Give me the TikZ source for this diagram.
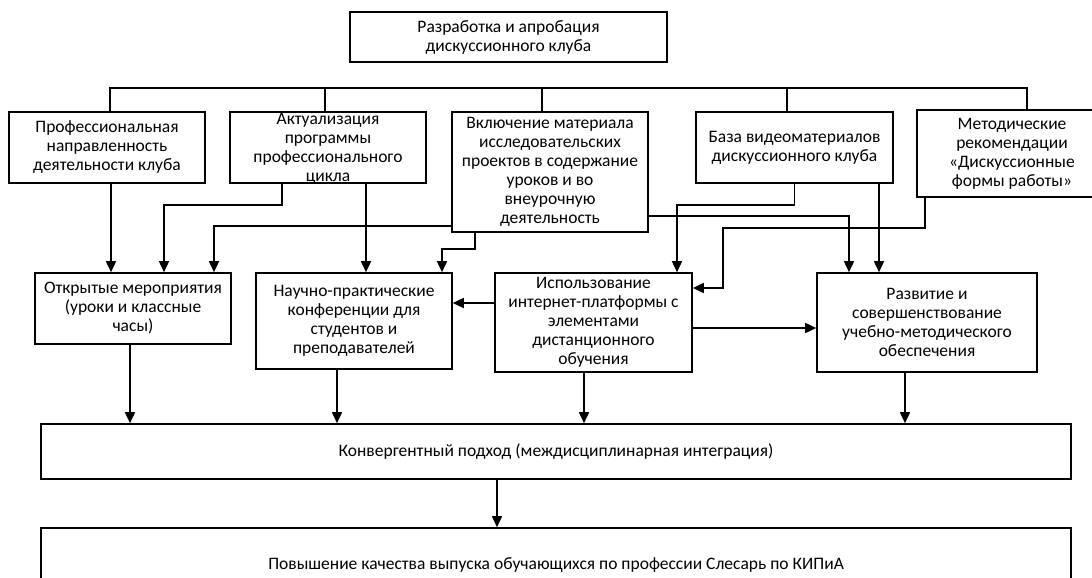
\documentclass[tikz,border=0pt]{standalone}
\usepackage{fontspec}
\setmainfont{Carlito}
\usetikzlibrary{arrows.meta,positioning}

\begin{document}
\begin{tikzpicture}[x=1pt, y=-1pt,
  every node/.style={font=\fontsize{17.5}{19}\selectfont},
  blk/.style={draw, line width=1.6pt, align=center, inner sep=0pt},
  ln/.style={line width=1.6pt},
  arr/.style={line width=1.6pt, -{Triangle[length=11pt,width=10pt]}}]
  \useasboundingbox (0,0) rectangle (1092,578);
  % Top
  \node[blk, minimum width=317, minimum height=50] (razrab) at (508.5,37)
    {Разработка и апробация\\дискуссионного клуба};
  % First row
  \node[blk, minimum width=196, minimum height=71] (napravl) at (107,147.5)
    {Профессиональная\\направленность\\деятельности клуба};
  \node[blk, minimum width=196, minimum height=71] (aktual) at (328,147.5) {};
  \node[align=center, inner sep=0pt] (aktualtxt) at (328,149)
    {Актуализация\\программы\\профессионального\\цикла};
  \node[blk, minimum width=196, minimum height=120] (vkluch) at (550,172)
    {Включение материала\\исследовательских\\проектов в содержание\\уроков и во\\внеурочную\\деятельность};
  \node[blk, minimum width=197, minimum height=71] (baza) at (794.5,147.5)
    {База видеоматериалов\\дискуссионного клуба};
  \node[blk, minimum width=190, minimum height=87] (metod) at (1012,153.5)
    {Методические\\рекомендации\\«Дискуссионные\\формы работы»};
  % Second row
  \node[blk, minimum width=196, minimum height=71] (otkryt) at (133,308.5)
    {Открытые мероприятия\\(уроки и классные\\часы)};
  \node[blk, minimum width=196, minimum height=96] (konf) at (354,321)
    {Научно-практические\\конференции для\\студентов и\\преподавателей};
  \node[blk, minimum width=197, minimum height=99] (inet) at (593.5,322.5)
    {Использование\\интернет-платформы с\\элементами\\дистанционного\\обучения};
  \node[blk, minimum width=220, minimum height=99] (razv) at (927,322.5)
    {Развитие и\\совершенствование\\учебно-методического\\обеспечения};
  % Bottom
  \node[blk, minimum width=1030, minimum height=55] (konv) at (556,451.5)
    {Конвергентный подход (междисциплинарная интеграция)};
  \node[blk, minimum width=1030, minimum height=74] (povysh) at (556,565)
    {Повышение качества выпуска обучающихся по профессии Слесарь по КИПиА};

  % bus
  \coordinate (busL) at (110,88);
  \coordinate (busR) at (1027,88);
  \draw[ln] (napravl.north -| busL) |- (busR) -- (busR |- metod.north);
  \draw[ln] ([xshift=-3]aktual.north) -- ([xshift=-3]aktual.north |- busL);
  \draw[ln] ([xshift=-8]vkluch.north) -- ([xshift=-8]vkluch.north |- busL);
  \draw[ln] ([xshift=-7.5]baza.north) -- ([xshift=-7.5]baza.north |- busL);

  % into the second row
  \draw[arr] ([xshift=4]napravl.south) -- ([xshift=4]napravl.south |- otkryt.north);
  \draw[arr] ([xshift=-46]aktual.south) -- ++(0,21) -| ([xshift=31]otkryt.north);
  \draw[arr] ([yshift=-54]vkluch.west) -| ([xshift=81]otkryt.north);
  \draw[arr] ([xshift=38]aktual.south) -- ([xshift=38]aktual.south |- konf.north);
  \draw[arr] ([xshift=-75]vkluch.south) -- ++(0,16) -| ([xshift=88]konf.north);
  \draw[arr] (baza.south) -- ++(0,21) -| ([xshift=83.5]inet.north);
  \draw[arr] ([yshift=-44]vkluch.east) -| ([xshift=-78]razv.north);
  \draw[arr] ([xshift=84.5]baza.south) -- ([xshift=84.5]baza.south |- razv.north);
  \draw[arr] ([xshift=-87]metod.south) -- ++(0,30) -- ++(-202,0) |- ([yshift=34.5]inet.east);
  \draw[arr] ([yshift=19.5]inet.west) -- ([yshift=19.5]inet.west -| konf.east);
  \draw[arr] ([yshift=-5.5]inet.east) -- ([yshift=-5.5]inet.east -| razv.west);

  % into the bottom
  \draw[arr] ([xshift=-3]otkryt.south) -- ([xshift=-3]otkryt.south |- konv.north);
  \draw[arr] ([xshift=-17]konf.south) -- ([xshift=-17]konf.south |- konv.north);
  \draw[arr] ([xshift=-9.5]inet.south) -- ([xshift=-9.5]inet.south |- konv.north);
  \draw[arr] ([xshift=-22]razv.south) -- ([xshift=-22]razv.south |- konv.north);
  \draw[arr] ([xshift=-59]konv.south) -- ([xshift=-59]konv.south |- povysh.north);
\end{tikzpicture}
\end{document}
